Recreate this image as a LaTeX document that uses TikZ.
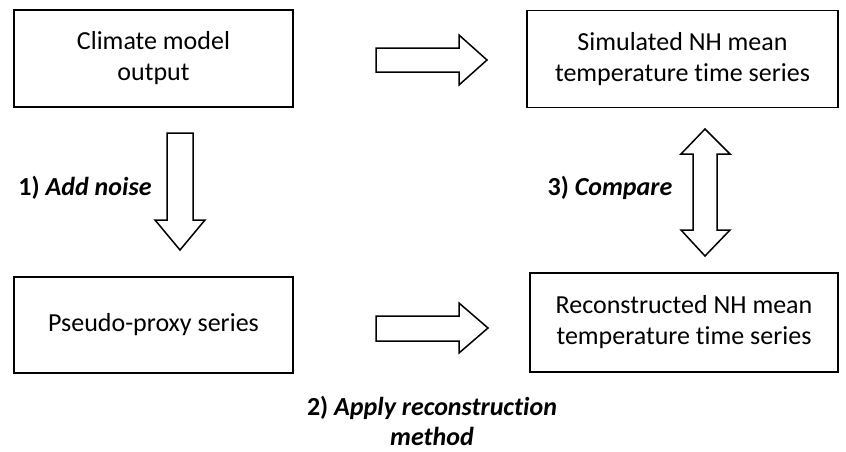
\documentclass[tikz,border=0pt]{standalone}
\usepackage{fontspec}
\setmainfont{Carlito}[Ligatures=NoCommon]
\usetikzlibrary{positioning}

\begin{document}
\begin{tikzpicture}[x=1pt,y=-1pt,
    box/.style={rectangle,draw,line width=1.5pt,minimum width=279pt,minimum height=97pt,
      align=center,inner sep=0pt,font=\fontsize{26}{31}\selectfont},
    blockarrow/.style={draw,line width=1.5pt,line join=miter,fill=white},
    steplabel/.style={font=\fontsize{26}{30}\selectfont\bfseries,align=center}]
  \useasboundingbox (0,0) rectangle (846,451);
  % boxes
  \node[box] (model) at (153.5,58.5) {Climate model\\output};
  \node[box,minimum width=311pt] (sim) at (682.5,59) {Simulated NH mean\\temperature time series};
  \node[box,minimum height=96pt] (proxy) at (153.5,325) {Pseudo-proxy series};
  \node[box,minimum width=308pt,minimum height=99pt] (recon) at (684,322.5) {Reconstructed NH mean\\temperature time series};
  % block arrows
  \draw[blockarrow] (376,48) -- (459,48) -- (459,35) -- (487,60) -- (459,85) -- (459,72) -- (376,72) -- cycle;
  \draw[blockarrow] (376,316) -- (459,316) -- (459,303) -- (488,328) -- (459,353) -- (459,341) -- (376,341) -- cycle;
  \draw[blockarrow] (167,133) -- (193,133) -- (193,220) -- (205,220) -- (180,250) -- (155,220) -- (167,220) -- cycle;
  \draw[blockarrow] (705,129) -- (730,154) -- (717,154) -- (717,230) -- (730,230) -- (705,256)
    -- (681,230) -- (693,230) -- (693,154) -- (681,154) -- cycle;
  % step labels
  \node[steplabel] (lblNoise) at (85,188) {1) \textit{Add noise}};
  \node[steplabel] (lblCmp) at (610,188) {3) \textit{Compare}};
  \node[steplabel] (lblApply) at (432,421) {2) \textit{Apply reconstruction}\\\textit{method}};
\end{tikzpicture}
\end{document}
